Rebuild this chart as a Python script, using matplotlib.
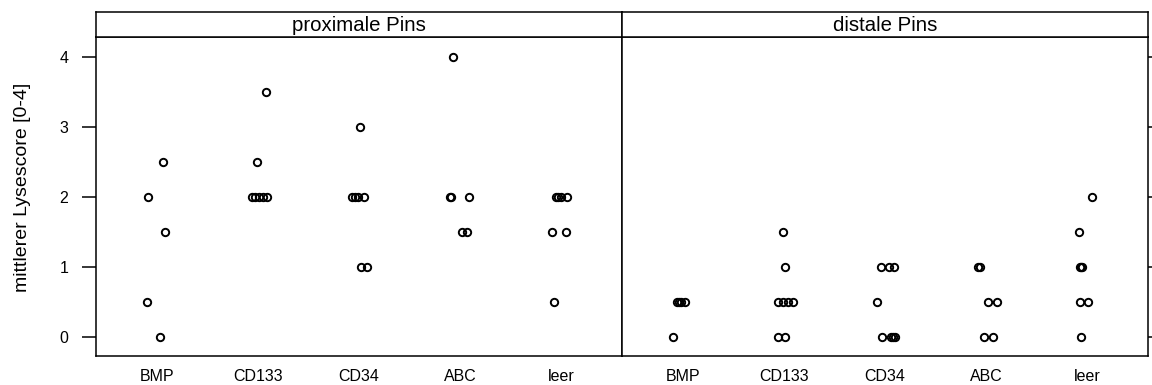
import matplotlib
matplotlib.use("Agg")
import matplotlib.pyplot as plt

plt.rcParams['font.family'] = ['Liberation Sans', 'DejaVu Sans']

categories = ["BMP", "CD133", "CD34", "ABC", "leer"]
panels = ["proximale Pins", "distale Pins"]

# values per category (proximale Pins)
prox_values = {
    "BMP":   [2, 2.5, 1.5, 0.5, 0],
    "CD133": [3.5, 2.5, 2, 2, 2, 2, 2],
    "CD34":  [3, 2, 2, 2, 2, 1, 1],
    "ABC":   [4, 2, 2, 2, 1.5, 1.5],
    "leer":  [2, 2, 2, 2, 1.5, 1.5, 0.5],
}
# horizontal jitter (category units)
prox_jitter = {
    "BMP":   [-0.09, 0.06, 0.085, -0.10, 0.03],
    "CD133": [0.08, -0.013, -0.06, -0.027, 0.013, 0.047, 0.087],
    "CD34":  [0.01, -0.07, -0.04, -0.01, 0.05, 0.02, 0.08],
    "ABC":   [-0.07, -0.10, -0.09, 0.09, 0.017, 0.067],
    "leer":  [-0.05, -0.03, 0.0, 0.06, -0.09, 0.05, -0.07],
}

# values per category (distale Pins)
dist_values = {
    "BMP":   [0.5, 0.5, 0.5, 0.5, 0],
    "CD133": [1.5, 1, 0.5, 0.5, 0.5, 0.5, 0, 0],
    "CD34":  [1, 1, 1, 0.5, 0, 0, 0, 0],
    "ABC":   [1, 1, 0.5, 0.5, 0, 0],
    "leer":  [2, 1.5, 1, 1, 1, 0.5, 0.5, 0],
}
dist_jitter = {
    "BMP":   [-0.06, -0.04, -0.02, 0.02, -0.10],
    "CD133": [-0.013, 0.007, -0.06, -0.01, 0.04, 0.09, -0.06, 0.007],
    "CD34":  [-0.037, 0.043, 0.087, -0.08, -0.03, 0.063, 0.08, 0.097],
    "ABC":   [-0.085, -0.06, 0.017, 0.106, -0.017, 0.072],
    "leer":  [0.05, -0.083, -0.077, -0.067, -0.057, -0.077, 0.01, -0.067],
}

yticks = [0, 1, 2, 3, 4]
ylabel = "mittlerer Lysescore [0-4]"

W, H = 1152, 385
fig = plt.figure(figsize=(W / 100, H / 100), dpi=100)

def fx(px):
    return px / W

def fy(py):
    return 1 - py / H

left0, mid, right0 = 96, 622, 1148
top_strip, strip_bot, bottom = 12, 37, 356

data = [(prox_values, prox_jitter), (dist_values, dist_jitter)]
bounds = [(left0, mid), (mid, right0)]

for i, (title, (vals, jit), (l, r)) in enumerate(zip(panels, data, bounds)):
    ax = fig.add_axes([fx(l), fy(bottom), fx(r - l), fy(strip_bot) - fy(bottom)])
    for j, cat in enumerate(categories):
        xs = [j + 1 + d for d in jit[cat]]
        ax.plot(xs, vals[cat], linestyle='none', marker='o', ms=5.3,
                mfc='none', mec='black', mew=1.4)
    ax.set_xlim(0.4, 5.6)
    ax.set_ylim(-0.27, 4.29)
    ax.set_xticks(range(1, len(categories) + 1))
    ax.set_xticklabels(categories)
    ax.tick_params(axis='x', length=0, pad=9.5, labelsize=11.5)
    ax.set_yticks(yticks)
    if i == 0:
        ax.tick_params(axis='y', left=True, right=False, labelleft=True,
                       labelright=False, length=10, width=1.1, pad=10,
                       labelsize=11.5, direction='out')
    else:
        ax.tick_params(axis='y', left=False, right=True, labelleft=False,
                       labelright=False, length=10, width=1.1,
                       direction='out')
    for s in ax.spines.values():
        s.set_linewidth(1.1)

    sax = fig.add_axes([fx(l), fy(strip_bot), fx(r - l), fy(top_strip) - fy(strip_bot)])
    sax.set_xticks([])
    sax.set_yticks([])
    for s in sax.spines.values():
        s.set_linewidth(1.1)
    sax.text(0.5, 0.45, title, ha='center', va='center', fontsize=14.7,
             transform=sax.transAxes)

fig.text(fx(23), fy(187.5), ylabel, rotation=90, ha='center', va='center',
         fontsize=14)

fig.savefig("out.png", dpi=100)
